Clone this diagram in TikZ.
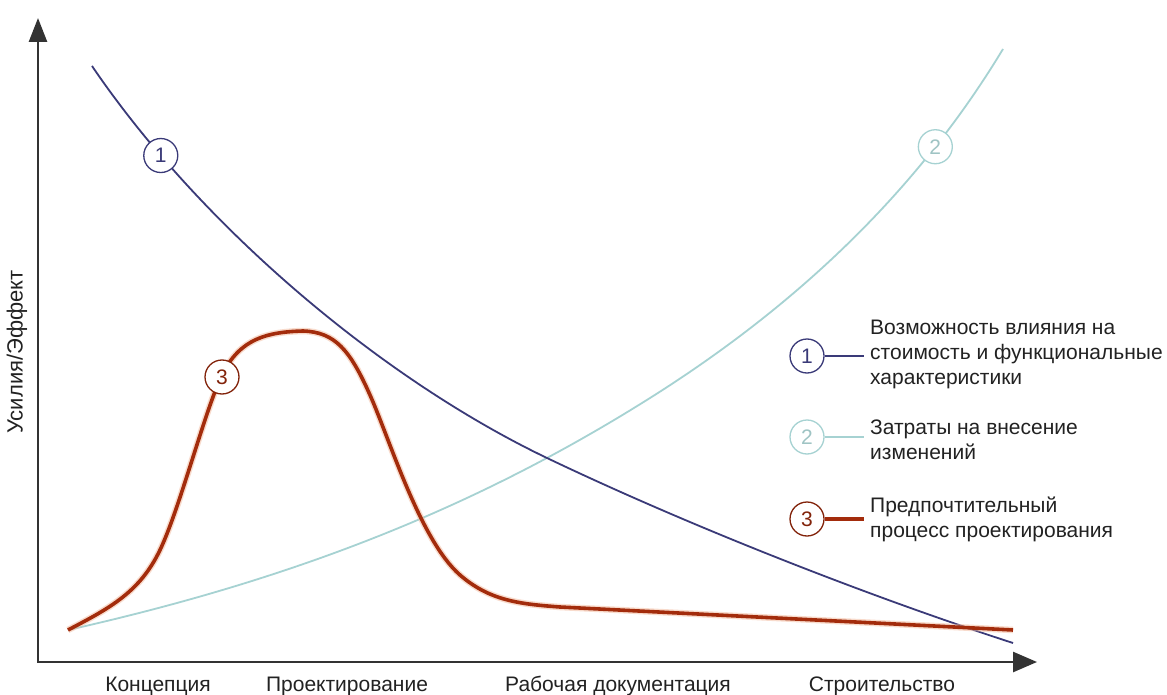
\documentclass[tikz,border=0pt]{standalone}
\usepackage{fontspec}
\setmainfont{Liberation Sans}
\usetikzlibrary{arrows.meta}
\definecolor{cone}{HTML}{3A3A78}
\definecolor{ctwo}{HTML}{A6D2D2}
\definecolor{ctwotext}{HTML}{9FC4C4}
\definecolor{cthree}{HTML}{A32C0C}
\definecolor{chalo}{HTML}{F2B89A}
\definecolor{axisc}{HTML}{333333}
\definecolor{txt}{HTML}{222222}
\begin{document}
\begin{tikzpicture}[x=1pt,y=-1pt,
  lbl/.style={font=\fontsize{21}{25}\selectfont, text=txt, inner sep=0pt},
  legtext/.style={lbl, align=left, anchor=west},
  markbase/.style={circle, line width=1.3pt, fill=white, minimum size=34pt, inner sep=0pt, font=\fontsize{21}{21}\selectfont},
  mark one/.style={markbase, draw=cone, text=cone},
  mark two/.style={markbase, draw=ctwo, text=ctwotext},
  mark three/.style={markbase, draw=cthree!80!black, text=cthree!80!black},
  axisline/.style={draw=axisc, line width=2.6pt},
  curveone/.style={draw=cone, line width=1.8pt},
  curvetwo/.style={draw=ctwo, line width=1.8pt},
  curvethree/.style={draw=cthree, line width=3.6pt},
  halo/.style={draw=chalo, line width=6.5pt, opacity=0.5}
]
\useasboundingbox (0,0) rectangle (1167,695);
\fill[white] (0,0) rectangle (1167,695);

% axes
\coordinate (ytip) at (38,18);
\coordinate (origin) at (38,662);
\coordinate (xtip) at (1037,662);
\draw[axisline, {Triangle[length=24pt,width=18pt]}-{Triangle[length=24pt,width=20pt]}] (ytip) -- (origin) -- (xtip);

% curve 2 (light)
\draw[curvetwo] (68,630) .. controls (300,578) and (480,505) .. (650,398)
  .. controls (820,291) and (930,170) .. node[mark two, pos=0.73] (m2) {2} (1003,49);

% curve 1 (navy)
\draw[curveone] (92,66) .. controls (200,225) and (380,378) .. node[mark one, pos=0.19] (m1) {1} (547,458)
  .. controls (700,531) and (880,600) .. (1013,643);

% curve 3 (red)
\def\redpath{(68,630) .. controls (110,608) and (140,592) .. (160,550)
  .. controls (180,508) and (205,410) .. (222,375)
  .. controls (240,338) and (268,332) .. (303,331)
  .. controls (335,332) and (350,350) .. (370,395)
  .. controls (390,440) and (420,540) .. (460,575)
  .. controls (490,601) and (520,604) .. (560,607)
  -- (1013,630)}
\draw[halo] \redpath;
\draw[curvethree] \redpath;
\node[mark three] (m3) at (222,377) {3};

% legend
\node[mark one] (l1) at (807,356) {1};
\coordinate (l1e) at (864,356);
\draw[curveone] (l1) -- (l1e);
\node[legtext] (t1) at (870,354) {Возможность влияния на\\стоимость и функциональные\\характеристики};

\node[mark two] (l2) at (807,437) {2};
\coordinate (l2e) at (864,437);
\draw[curvetwo] (l2) -- (l2e);
\node[legtext] (t2) at (870,440) {Затраты на внесение\\изменений};

\node[mark three] (l3) at (807,519) {3};
\coordinate (l3e) at (864,519);
\draw[curvethree] (l3) -- (l3e);
\node[legtext] (t3) at (870,519) {Предпочтительный\\процесс проектирования};

% axis labels
\node[lbl] (xa) at (158,686) {Концепция};
\node[lbl] (xb) at (347,686) {Проектирование};
\node[lbl] (xc) at (618,686) {Рабочая документация};
\node[lbl] (xd) at (882,686) {Строительство};
\node[lbl, rotate=90, font=\fontsize{22}{22}\selectfont] (ylab) at (17,352) {Усилия/Эффект};
\end{tikzpicture}
\end{document}
